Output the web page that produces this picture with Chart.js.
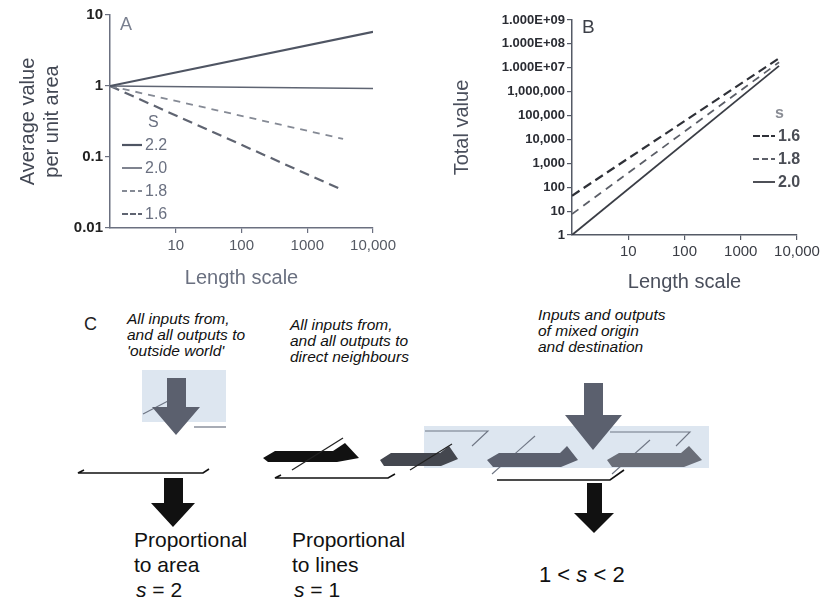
<!DOCTYPE html>
<html>
<head>
<meta charset="utf-8">
<script src="https://cdn.jsdelivr.net/npm/chart.js@4.4.0/dist/chart.umd.min.js"></script>
<style>
  body { margin: 0; background: #fff; width: 825px; height: 601px; position: relative; overflow: hidden; font-family: "Liberation Sans", Arial, sans-serif; }
  #chartA { position: absolute; left: 0; top: 0; }
  #chartB { position: absolute; left: 400px; top: 0; }
  #diagram { position: absolute; left: 0; top: 0; }
</style>
</head>
<body>
<svg id="diagram" width="825" height="601" xmlns="http://www.w3.org/2000/svg">
  <!-- left: inputs from outside world -->
  <rect x="142" y="370" width="84" height="52" fill="#dde6f0"/>
  <line x1="143" y1="414" x2="168" y2="401" stroke="#6f7684" stroke-width="1.2"/>
  <line x1="194" y1="427" x2="226" y2="427" stroke="#6f7684" stroke-width="1.2"/>
  <polygon points="167,378 186,378 186,407 200,407 176,435 152,407 167,407" fill="#5b606e"/>
  <polyline points="84,470 78,473 203,473 209,469" fill="none" stroke="#111" stroke-width="1.6"/>
  <polygon points="164,478 183,478 183,503 195,503 173,527 151,503 164,503" fill="#111"/>

  <!-- right: mixed origin and destination (band first, so the middle arrow sits on top) -->
  <rect x="424" y="426" width="285" height="42" fill="#dde6f0"/>
  <polyline points="425,431 488,431 472,446" fill="none" stroke="#6f7684" stroke-width="1.1"/>
  <polyline points="610,432 690,432 676,446" fill="none" stroke="#6f7684" stroke-width="1.1"/>
  <line x1="492" y1="474" x2="535" y2="436" stroke="#6f7684" stroke-width="1.1"/>
  <line x1="612" y1="474" x2="650" y2="440" stroke="#6f7684" stroke-width="1.1"/>
  <polygon points="584,383 603,383 603,415 622,415 593,450 565,415 584,415" fill="#5b606e"/>
  <polygon points="487,460 499,453 560,453 567,446 578,460 561,467 493,467" fill="#5b606e"/>
  <polygon points="607,460 619,453 681,453 689,446 702,460 684,467 612,467" fill="#6a6e78"/>
  <polyline points="497,480 610,480 624,470" fill="none" stroke="#111" stroke-width="1.6"/>
  <polygon points="587,483 602,483 602,513 614,513 594,533 574,513 587,513" fill="#111"/>

  <!-- middle: direct neighbours -->
  <polygon points="263,458 275,451 333,451 345,443 359,458 337,462 268,462" fill="#111"/>
  <line x1="292" y1="470" x2="343" y2="438" stroke="#222" stroke-width="1.3"/>
  <polygon points="380,460 391,453 440,453 449,446 458,459 441,466 384,466" fill="#44474f"/>
  <line x1="410" y1="470" x2="452" y2="444" stroke="#222" stroke-width="1.2"/>
  <polyline points="281,475 275,478 388,478 395,474" fill="none" stroke="#111" stroke-width="1.6"/>

  <!-- text -->
  <text x="84" y="330" font-size="18" fill="#222">C</text>
  <g font-size="15.5" font-style="italic" fill="#111">
    <text x="127" y="324">All inputs from,</text>
    <text x="127" y="340">and all outputs to</text>
    <text x="127" y="356">'outside world'</text>
    <text x="290" y="330">All inputs from,</text>
    <text x="290" y="346">and all outputs to</text>
    <text x="290" y="362">direct neighbours</text>
    <text x="538" y="320">Inputs and outputs</text>
    <text x="538" y="336">of mixed origin</text>
    <text x="538" y="352">and destination</text>
  </g>
  <g font-size="21" fill="#111">
    <text x="134" y="547">Proportional</text>
    <text x="134" y="572">to area</text>
    <text x="136" y="597"><tspan font-style="italic">s</tspan> = 2</text>
    <text x="292" y="547">Proportional</text>
    <text x="292" y="572">to lines</text>
    <text x="294" y="597"><tspan font-style="italic">s</tspan> = 1</text>
    <text x="539" y="582" font-size="22">1 &lt; <tspan font-style="italic">s</tspan> &lt; 2</text>
  </g>
</svg>
<canvas id="chartA" width="400" height="300"></canvas>
<canvas id="chartB" width="425" height="300"></canvas>
<script>
// tick positions and labels
const lengthTicks = [10, 100, 1000, 10000];
const lengthTickLabels = ['10', '100', '1000', '10,000'];
const areaTicks = [0.01, 0.1, 1, 10];
const areaTickLabels = ['0.01', '0.1', '1', '10'];
const totalTicks = [1, 10, 100, 1e3, 1e4, 1e5, 1e6, 1e7, 1e8, 1e9];
const totalTickLabels = ['1', '10', '100', '1,000', '10,000', '100,000', '1,000,000', '1.000E+07', '1.000E+08', '1.000E+09'];

// panel A: average value per unit area
const seriesA = ['2.2', '2.0', '1.8', '1.6'];
const lengthA22 = [1, 10000];
const valueA22 = [1, 5.8];
const lengthA20 = [1, 10000];
const valueA20 = [1, 0.92];
const lengthA18 = [1, 3500];
const valueA18 = [1, 0.18];
const lengthA16 = [1, 3500];
const valueA16 = [1, 0.034];

// panel B: total value
const seriesB = ['1.6', '1.8', '2.0'];
const lengthB16 = [1, 4800];
const valueB16 = [44, 2.5e7];
const lengthB18 = [1, 4800];
const valueB18 = [7.5, 1.7e7];
const lengthB20 = [1, 4800];
const valueB20 = [1, 1.2e7];

const FONT = '"Liberation Sans", Arial, sans-serif';

function points(xs, ys) {
  return xs.map((x, i) => ({ x: x, y: ys[i] }));
}

function fixedTicks(values) {
  return function (scale) {
    scale.ticks = values.map(v => ({ value: v }));
  };
}

// legend and panel letter drawn inside the plot
const sLegend = {
  id: 'sLegend',
  afterDraw(chart, args, opts) {
    const ctx = chart.ctx;
    const area = chart.chartArea;
    const x = area.left + opts.x;
    const y = area.top + opts.y;
    ctx.save();
    ctx.textBaseline = 'middle';
    ctx.font = opts.letterFont;
    ctx.fillStyle = opts.letterColor;
    ctx.fillText(opts.letter, area.left + opts.letterX, area.top + opts.letterY);
    ctx.font = opts.font;
    ctx.fillStyle = opts.titleColor;
    ctx.fillText(opts.title, x + opts.titleX, y);
    chart.data.datasets.forEach((ds, i) => {
      const yy = y + opts.firstRow + i * opts.rowGap;
      ctx.beginPath();
      ctx.setLineDash(ds.legendDash || []);
      ctx.strokeStyle = ds.borderColor;
      ctx.lineWidth = ds.borderWidth;
      ctx.moveTo(x, yy);
      ctx.lineTo(x + opts.sample, yy);
      ctx.stroke();
      ctx.setLineDash([]);
      ctx.fillStyle = opts.color;
      ctx.fillText(ds.label, x + opts.sample + 3, yy + 1);
    });
    ctx.restore();
  }
};

function lineSet(label, xs, ys, color, width, dash, legendDash) {
  return {
    label: label,
    data: points(xs, ys),
    borderColor: color,
    borderWidth: width,
    borderDash: dash,
    legendDash: legendDash,
    pointRadius: 0,
    fill: false,
    tension: 0
  };
}

new Chart(document.getElementById('chartA'), {
  type: 'line',
  data: {
    datasets: [
      lineSet(seriesA[0], lengthA22, valueA22, '#4f5563', 2.2, [], []),
      lineSet(seriesA[1], lengthA20, valueA20, '#5f6573', 1.6, [], []),
      lineSet(seriesA[2], lengthA18, valueA18, '#858a95', 1.8, [7, 6], [5, 3]),
      lineSet(seriesA[3], lengthA16, valueA16, '#5f6471', 2.2, [10, 6], [6, 2])
    ]
  },
  options: {
    responsive: false,
    animation: false,
    devicePixelRatio: 1,
    layout: { padding: { left: 14, top: 15, right: 20, bottom: 8 } },
    scales: {
      x: {
        type: 'logarithmic',
        min: 1,
        max: 10000,
        afterBuildTicks: fixedTicks(lengthTicks),
        afterFit: s => { s.height = 64; },
        ticks: {
          autoSkip: false, maxRotation: 0, padding: 4,
          color: '#555a64', font: { family: FONT, size: 15 },
          callback: (v, i) => lengthTickLabels[i]
        },
        grid: { drawOnChartArea: false, tickLength: 5, color: '#6b7080', lineWidth: 1.2 },
        border: { color: '#6b7080', width: 1.5 },
        title: { display: true, text: 'Length scale', color: '#6a7080', font: { family: FONT, size: 20 }, padding: { top: 2, bottom: 2 } }
      },
      y: {
        type: 'logarithmic',
        min: 0.01,
        max: 10,
        afterBuildTicks: fixedTicks(areaTicks),
        afterFit: s => { s.width = 96; },
        ticks: {
          autoSkip: false, padding: 2,
          color: '#222', font: { family: FONT, size: 15, weight: 'bold' },
          callback: (v, i) => areaTickLabels[i]
        },
        grid: { drawOnChartArea: false, tickLength: 5, color: '#6b7080', lineWidth: 1.2 },
        border: { color: '#6b7080', width: 1.5 },
        title: { display: true, text: ['Average value', 'per unit area'], color: '#434854', font: { family: FONT, size: 20 }, padding: { top: 2, bottom: 0 } }
      }
    },
    plugins: {
      legend: { display: false },
      tooltip: { enabled: false },
      sLegend: {
        x: 12, y: 108, titleX: 26, firstRow: 22, rowGap: 23, sample: 20,
        title: 'S', font: '16px ' + FONT, color: '#6a7080', titleColor: '#6a7080',
        letter: 'A', letterX: 10, letterY: 10, letterFont: '18px ' + FONT, letterColor: '#7a8090'
      }
    }
  },
  plugins: [sLegend]
});

new Chart(document.getElementById('chartB'), {
  type: 'line',
  data: {
    datasets: [
      lineSet(seriesB[0], lengthB16, valueB16, '#2f3138', 2.2, [9, 5], [7, 2]),
      lineSet(seriesB[1], lengthB18, valueB18, '#5c5f68', 1.8, [8, 6], [6, 3]),
      lineSet(seriesB[2], lengthB20, valueB20, '#3a3d45', 1.8, [], [])
    ]
  },
  options: {
    responsive: false,
    animation: false,
    devicePixelRatio: 1,
    layout: { padding: { left: 50, top: 20, right: 28, bottom: 6 } },
    scales: {
      x: {
        type: 'logarithmic',
        min: 1,
        max: 10000,
        afterBuildTicks: fixedTicks(lengthTicks),
        afterFit: s => { s.height = 59; },
        ticks: {
          autoSkip: false, maxRotation: 0, padding: 3,
          color: '#3a3d45', font: { family: FONT, size: 15 },
          callback: (v, i) => lengthTickLabels[i]
        },
        grid: { drawOnChartArea: false, tickLength: 5, color: '#555a66', lineWidth: 1.2 },
        border: { color: '#555a66', width: 1.5 },
        title: { display: true, text: 'Length scale', color: '#4a4f5c', font: { family: FONT, size: 20 }, padding: { top: 2, bottom: 0 } }
      },
      y: {
        type: 'logarithmic',
        min: 1,
        max: 1e9,
        afterBuildTicks: fixedTicks(totalTicks),
        afterFit: s => { s.width = 122; },
        ticks: {
          autoSkip: false, padding: 2,
          color: '#2a2c33', font: { family: FONT, size: 13, weight: 'bold' },
          callback: (v, i) => totalTickLabels[i]
        },
        grid: { drawOnChartArea: false, tickLength: 5, color: '#555a66', lineWidth: 1.2 },
        border: { color: '#555a66', width: 1.5 },
        title: { display: true, text: 'Total value', color: '#4a4f5c', font: { family: FONT, size: 20 }, padding: { top: 0, bottom: 0 } }
      }
    },
    plugins: {
      legend: { display: false },
      tooltip: { enabled: false },
      sLegend: {
        x: 181, y: 94, titleX: 22, firstRow: 22, rowGap: 23, sample: 22,
        title: 's', font: 'bold 16px ' + FONT, color: '#4a4d55', titleColor: '#8a8d95',
        letter: 'B', letterX: 10, letterY: 8, letterFont: '19px ' + FONT, letterColor: '#3d4048'
      }
    }
  },
  plugins: [sLegend]
});
</script>
</body>
</html>
